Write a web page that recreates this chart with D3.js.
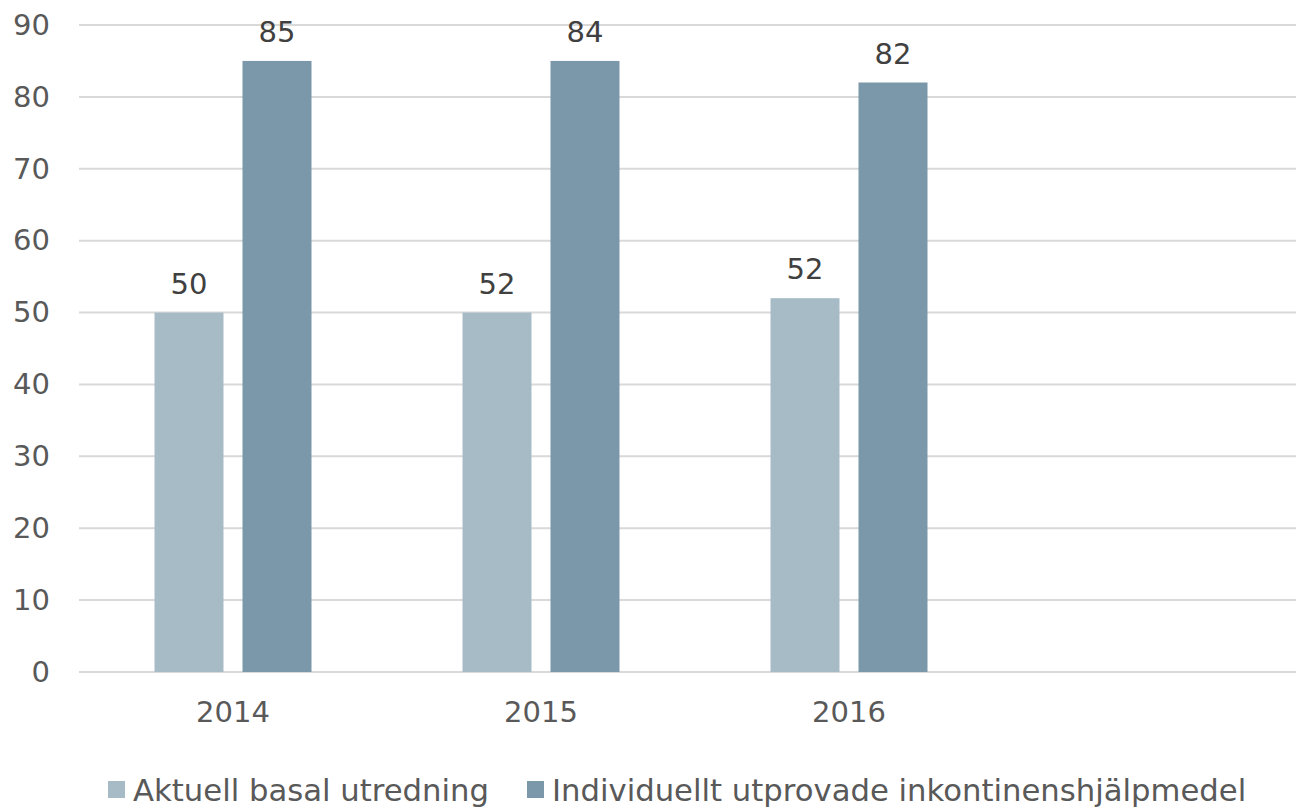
<!DOCTYPE html>
<html>
<head>
<meta charset="utf-8">
<script src="https://cdn.jsdelivr.net/npm/d3@7"></script>
<style>
	body { margin: 0; background: #fff; }
	text { font-family: "DejaVu Sans", sans-serif; }
</style>
</head>
<body>
<script>
// data
var years = ["2014", "2015", "2016", ""];
var seriesNames = ["Aktuell basal utredning", "Individuellt utprovade inkontinenshjälpmedel"];
var basal = [50, 50, 52];          // bar heights
var hjalpmedel = [85, 85, 82];
var basalLabels = ["50", "52", "52"];   // labels as printed
var hjalpmedelLabels = ["85", "84", "82"];
var yTicks = [0, 10, 20, 30, 40, 50, 60, 70, 80, 90];
var colors = ["#a7bbc6", "#7b98aa"];

var width = 1296, height = 807;
var svg = d3.select("body").append("svg")
	.attr("width", width).attr("height", height);

var x0 = d3.scaleBand().domain(years).range([79, 1311]);
var x1 = d3.scaleBand().domain(seriesNames)
	.range([-78.5, 78.5]).paddingInner(19 / 88);
var y = d3.scaleLinear().domain([0, 90]).range([672, 25]);

// grid
svg.append("g").selectAll("line").data(yTicks).enter().append("line")
	.attr("x1", 79).attr("x2", width)
	.attr("y1", function(d){ return y(d); })
	.attr("y2", function(d){ return y(d); })
	.style("stroke", "#d9d9d9")
	.style("stroke-width", 2);

// y axis
var yAxis = d3.axisLeft(y).tickValues(yTicks).tickSize(0).tickPadding(0);
var gy = svg.append("g").attr("transform", "translate(50,0)").call(yAxis);
gy.select(".domain").remove();
gy.selectAll("text").style("font-size", "29px").style("fill", "#595959")
	.style("font-family", "DejaVu Sans");

// x axis
var xAxis = d3.axisBottom(x0).tickSize(0).tickPadding(0);
var gx = svg.append("g").attr("transform", "translate(0,701)").call(xAxis);
gx.select(".domain").remove();
gx.selectAll("text").style("font-size", "29px").style("fill", "#595959")
	.style("font-family", "DejaVu Sans");

var rows = years.slice(0, 3).map(function(yr, i){
	return [
		{ year: yr, s: seriesNames[0], v: basal[i], label: basalLabels[i], c: colors[0] },
		{ year: yr, s: seriesNames[1], v: hjalpmedel[i], label: hjalpmedelLabels[i], c: colors[1] }
	];
});

var groups = svg.append("g").selectAll("g").data(rows).enter().append("g")
	.attr("transform", function(d){ return "translate(" + (x0(d[0].year) + x0.bandwidth() / 2) + ",0)"; });

groups.selectAll("rect").data(function(d){ return d; }).enter().append("rect")
	.attr("x", function(d){ return x1(d.s); })
	.attr("y", function(d){ return y(d.v); })
	.attr("width", x1.bandwidth())
	.attr("height", function(d){ return y(0) - y(d.v); })
	.attr("fill", function(d){ return d.c; });

groups.selectAll("text").data(function(d){ return d; }).enter().append("text")
	.attr("x", function(d){ return x1(d.s) + x1.bandwidth() / 2; })
	.attr("y", function(d){ return y(d.v) - 19; })
	.attr("text-anchor", "middle")
	.style("font-size", "29px")
	.style("fill", "#404040")
	.text(function(d){ return d.label; });

// legend
var legendX = [108, 527];
var legend = svg.append("g").selectAll("g").data(seriesNames).enter().append("g")
	.attr("transform", function(d, i){ return "translate(" + legendX[i] + ",781)"; });
legend.append("rect").attr("width", 17).attr("height", 17)
	.attr("fill", function(d, i){ return colors[i]; });
legend.append("text").attr("x", 25).attr("y", 20)
	.style("font-size", "30.7px").style("fill", "#595959")
	.text(function(d){ return d; });
</script>
</body>
</html>
